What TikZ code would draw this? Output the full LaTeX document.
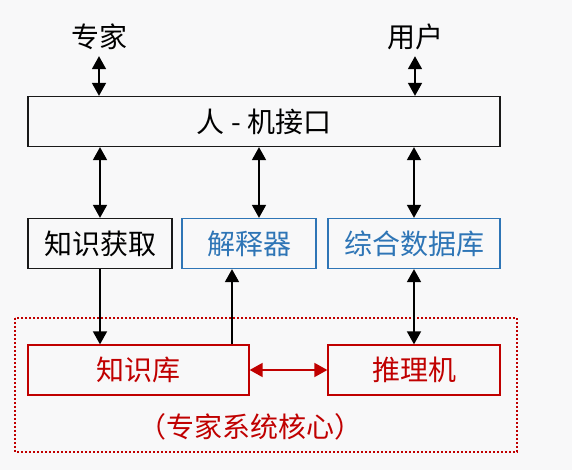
\documentclass[tikz,border=0pt]{standalone}
\usepackage{fontspec}
\newfontfamily\cjk{Noto Sans CJK SC}
\usetikzlibrary{arrows.meta}
\definecolor{bgcol}{RGB}{248,248,249}
\definecolor{kred}{RGB}{192,0,0}
\definecolor{kblue}{RGB}{46,117,182}

\begin{document}
\begin{tikzpicture}[x=1pt,y=1pt,>={Triangle[length=13pt,width=14pt]},
	txt/.style={font=\cjk\fontsize{28}{32}\selectfont,inner sep=0pt},
	blk/.style={txt,draw=black!90,line width=1.3pt,minimum height=50pt},
	bluebox/.style={blk,draw=kblue,text=kblue},
	redbox/.style={blk,draw=kred,text=kred},
	link/.style={line width=1.8pt}]
	\fill[bgcol] (0,0) rectangle (572,470);
	\useasboundingbox (0,0) rectangle (572,470);
	% top row
	\node[txt] (expert) at (99,433) {专家};
	\node[txt] (user) at (415,433) {用户};
	\node[blk,minimum width=472pt] (hmi) at (264,348.5) {人 - 机接口};
	% middle row
	\node[blk,minimum width=144pt] (acq) at (100,226.5) {知识获取};
	\node[bluebox,minimum width=134pt] (expl) at (249,226.5) {解释器};
	\node[bluebox,minimum width=172pt] (db) at (414,226.5) {综合数据库};
	% core
	\draw[kred,line width=1.2pt,dash pattern=on 2pt off 2pt] (15,152) rectangle (517,18);
	\node[redbox,minimum width=221pt] (kb) at (138.5,100) {知识库};
	\node[redbox,minimum width=172pt] (inf) at (414,100) {推理机};
	\node[txt,text=kred] (core) at (250,43) {（专家系统核心）};
	\coordinate (hmix) at (259,0);
	\coordinate (kbx) at (232,0);
	% arrows
	\draw[link,<->,shorten <=6pt] (expert.south) -- (expert.south |- hmi.north);
	\draw[link,<->,shorten <=6pt] (user.south) -- (user.south |- hmi.north);
	\draw[link,<->] (acq.north |- hmi.south) -- (acq.north);
	\draw[link,<->] (hmi.south -| hmix) -- (expl.north -| hmix);
	\draw[link,<->] (db.north |- hmi.south) -- (db.north);
	\draw[link,->] (acq.south) -- (acq.south |- kb.north);
	\draw[link,->] (kb.north -| kbx) -- (expl.south -| kbx);
	\draw[link,<->] (db.south) -- (inf.north);
	\draw[link,<->,kred] (kb.east) -- (inf.west);
\end{tikzpicture}
\end{document}
